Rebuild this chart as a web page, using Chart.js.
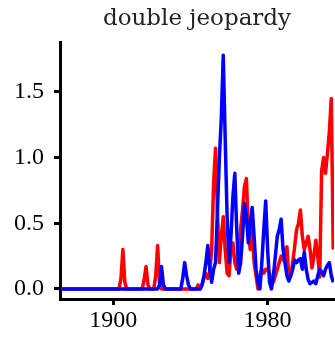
<!DOCTYPE html>
<html>
<head>
<meta charset="utf-8">
<script src="https://cdn.jsdelivr.net/npm/chart.js@4"></script>
<style>
  html, body { margin: 0; padding: 0; background: #fff; }
  #wrap { width: 335px; height: 346px; }
</style>
</head>
<body>
<div id="wrap"><canvas id="lineChart"></canvas></div>
<script>
const chartTitle = 'double jeopardy';

const years = [
  1873, 1874, 1875, 1876, 1877, 1878, 1879,
  1880, 1881, 1882, 1883, 1884, 1885, 1886, 1887, 1888, 1889,
  1890, 1891, 1892, 1893, 1894, 1895, 1896, 1897, 1898, 1899,
  1900, 1901, 1902, 1903, 1904, 1905, 1906, 1907, 1908, 1909,
  1910, 1911, 1912, 1913, 1914, 1915, 1916, 1917, 1918, 1919,
  1920, 1921, 1922, 1923, 1924, 1925, 1926, 1927, 1928, 1929,
  1930, 1931, 1932, 1933, 1934, 1935, 1936, 1937, 1938, 1939,
  1940, 1941, 1942, 1943, 1944, 1945, 1946, 1947, 1948, 1949,
  1950, 1951, 1952, 1953, 1954, 1955, 1956, 1957, 1958, 1959,
  1960, 1961, 1962, 1963, 1964, 1965, 1966, 1967, 1968, 1969,
  1970, 1971, 1972, 1973, 1974, 1975, 1976, 1977, 1978, 1979,
  1980, 1981, 1982, 1983, 1984, 1985, 1986, 1987, 1988, 1989,
  1990, 1991, 1992, 1993, 1994, 1995, 1996, 1997, 1998, 1999,
  2000, 2001, 2002, 2003, 2004, 2005, 2006, 2007, 2008, 2009,
  2010, 2011, 2012, 2013, 2014
];

const redValues = [
  0, 0, 0, 0, 0, 0, 0,
  0, 0, 0, 0, 0, 0, 0, 0, 0, 0,
  0, 0, 0, 0, 0, 0, 0, 0, 0, 0,
  0, 0, 0, 0, 0.08, 0.3, 0.05, 0, 0, 0,
  0, 0, 0, 0, 0, 0, 0.07, 0.17, 0.03, 0,
  0, 0, 0.1, 0.33, 0.04, 0, 0, 0, 0, 0,
  0, 0, 0, 0, 0, 0, 0, 0, 0, 0,
  0, 0, 0, 0, 0.03, 0, 0.03, 0.08, 0.12, 0.08,
  0.12, 0.3, 0.8, 1.07, 0.58, 0.2, 0.4, 0.55, 0.3, 0.12,
  0.1, 0.3, 0.35, 0.2, 0.15, 0.25, 0.45, 0.6, 0.78, 0.84,
  0.45, 0.3, 0.45, 0.2, 0.1, 0, 0.1, 0.15, 0.12, 0.15,
  0.15, 0.12, 0.05, 0.05, 0.1, 0.15, 0.2, 0.25, 0.22, 0.3,
  0.32, 0.08, 0.1, 0.2, 0.32, 0.45, 0.5, 0.6, 0.4, 0.3,
  0.35, 0.4, 0.3, 0.16, 0.25, 0.37, 0.25, 0.09, 0.9, 1.0,
  0.88, 1.03, 1.2, 1.45, 0.3
];

const blueValues = [
  0, 0, 0, 0, 0, 0, 0,
  0, 0, 0, 0, 0, 0, 0, 0, 0, 0,
  0, 0, 0, 0, 0, 0, 0, 0, 0, 0,
  0, 0, 0, 0, 0, 0, 0, 0, 0, 0,
  0, 0, 0, 0, 0, 0, 0, 0, 0, 0,
  0, 0, 0, 0, 0.03, 0.17, 0.03, 0, 0, 0,
  0, 0, 0, 0, 0, 0, 0.08, 0.2, 0.1, 0.03,
  0, 0, 0, 0, 0, 0, 0.03, 0.1, 0.2, 0.33,
  0.15, 0.05, 0.15, 0.2, 0.6, 1.0, 1.3, 1.78, 1.15, 0.55,
  0.2, 0.4, 0.7, 0.88, 0.45, 0.12, 0.2, 0.4, 0.65, 0.55,
  0.35, 0.5, 0.62, 0.4, 0.15, 0.05, 0, 0.2, 0.45, 0.67,
  0.3, 0.05, 0, 0.1, 0.25, 0.4, 0.45, 0.53, 0.3, 0.2,
  0.1, 0.06, 0.1, 0.15, 0.22, 0.2, 0.22, 0.23, 0.15, 0.28,
  0.15, 0.07, 0.04, 0.05, 0.06, 0.04, 0.1, 0.15, 0.13, 0.1,
  0.15, 0.18, 0.2, 0.1, 0.05
];

const xTicks = [1900, 1980];
const yTicks = [0, 0.5, 1.0, 1.5];

// title centred over the plot area, not the canvas
const titlePlugin = {
    id: 'plotTitle',
    afterDraw(chart) {
        const ctx = chart.ctx;
        const area = chart.chartArea;
        ctx.save();
        ctx.font = '23px "DejaVu Serif"';
        ctx.fillStyle = '#222';
        ctx.textAlign = 'center';
        ctx.textBaseline = 'alphabetic';
        ctx.fillText(chartTitle, (area.left + area.right) / 2, 25);
        ctx.restore();
    }
};

const tickFont = { family: '"Liberation Serif", serif', size: 24 };

const ctx = document.getElementById('lineChart').getContext('2d');
new Chart(ctx, {
    type: 'line',
    data: {
        datasets: [
            {
                label: 'blue',
                data: years.map((y, i) => ({ x: y, y: blueValues[i] })),
                borderColor: '#0000ff',
                borderWidth: 3.5,
                borderJoinStyle: 'round',
                pointRadius: 0,
                fill: false,
                tension: 0
            },
            {
                label: 'red',
                data: years.map((y, i) => ({ x: y, y: redValues[i] })),
                borderColor: '#ff0000',
                borderWidth: 3.5,
                borderJoinStyle: 'round',
                pointRadius: 0,
                fill: false,
                tension: 0
            }
        ]
    },
    options: {
        responsive: true,
        maintainAspectRatio: false,
        animation: false,
        layout: { padding: { top: 42, right: 1, left: 0, bottom: 0 } },
        plugins: {
            legend: { display: false },
            tooltip: { enabled: false },
            title: { display: false }
        },
        scales: {
            x: {
                type: 'linear',
                min: 1872.4,
                max: 2014.4,
                afterBuildTicks: axis => { axis.ticks = xTicks.map(v => ({ value: v })); },
                afterFit: axis => { axis.height = 47; },
                ticks: {
                    color: '#000',
                    font: tickFont,
                    padding: 1,
                    maxRotation: 0,
                    callback: v => String(v)
                },
                grid: {
                    drawOnChartArea: false,
                    drawTicks: true,
                    tickLength: 6,
                    color: '#000',
                    lineWidth: 3
                },
                border: { display: true, color: '#000', width: 3 }
            },
            y: {
                min: -0.077,
                max: 1.88,
                afterBuildTicks: axis => { axis.ticks = yTicks.map(v => ({ value: v })); },
                afterFit: axis => { axis.width = 60; },
                ticks: {
                    color: '#000',
                    font: tickFont,
                    padding: 10,
                    callback: v => v.toFixed(1)
                },
                grid: {
                    drawOnChartArea: false,
                    drawTicks: true,
                    tickLength: 6,
                    color: '#000',
                    lineWidth: 3
                },
                border: { display: true, color: '#000', width: 3 }
            }
        }
    },
    plugins: [titlePlugin]
});
</script>
</body>
</html>
